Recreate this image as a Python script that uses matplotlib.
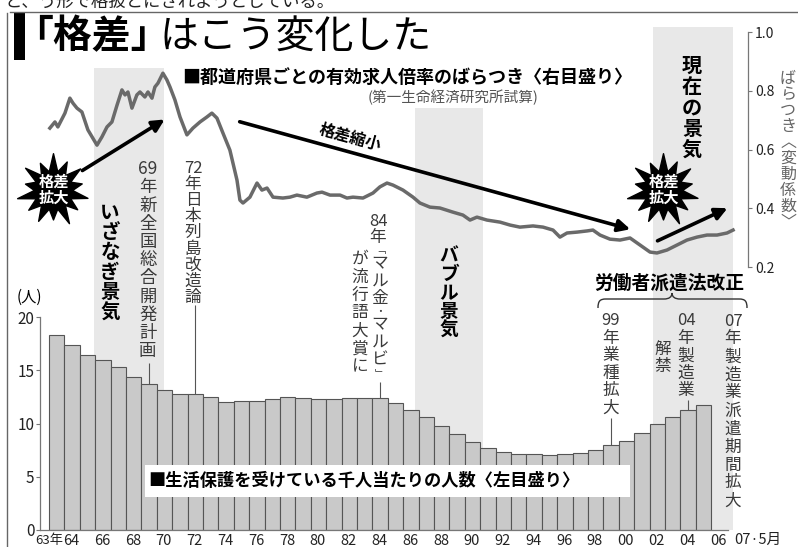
import matplotlib
matplotlib.use('Agg')
import numpy as np
import matplotlib.pyplot as plt
from matplotlib.path import Path
from matplotlib.patches import Rectangle, PathPatch, FancyArrowPatch
from matplotlib.lines import Line2D
from matplotlib.transforms import Affine2D

plt.rcParams['font.family'] = ['Noto Sans CJK JP', 'DejaVu Sans']

# 生活保護を受けている千人当たりの人数（1963〜2005年）
years = list(range(1963, 2006))
welfare = [18.3, 17.4, 16.4, 16.0, 15.3, 14.4, 13.7, 13.1, 12.8, 12.8,
           12.5, 12.0, 12.1, 12.1, 12.3, 12.5, 12.4, 12.3, 12.3, 12.4,
           12.4, 12.4, 11.9, 11.3, 10.6, 9.8, 9.0, 8.3, 7.7, 7.3,
           7.1, 7.1, 7.0, 7.1, 7.2, 7.5, 8.0, 8.4, 9.1, 10.0,
           10.6, 11.3, 11.7]

# 都道府県ごとの有効求人倍率のばらつき（変動係数）
cv_time = [1963.06, 1963.39, 1963.58, 1964.04, 1964.36, 1964.56, 1964.82, 1965.14,
           1965.53, 1966.12, 1966.44, 1966.77, 1967.09, 1967.42, 1967.74, 1967.94,
           1968.13, 1968.39, 1968.71, 1968.91, 1969.23, 1969.43, 1969.69, 1969.88,
           1970.08, 1970.40, 1970.66, 1970.86, 1971.18, 1971.51, 1971.96, 1972.35,
           1972.81, 1973.26, 1973.58, 1973.91, 1974.30, 1974.75, 1975.21, 1975.40,
           1975.60, 1976.05, 1976.51, 1976.83, 1977.16, 1977.55, 1978.19, 1978.65,
           1979.10, 1979.75, 1980.40, 1980.73, 1981.25, 1981.90, 1982.35, 1982.74,
           1983.39, 1984.04, 1984.49, 1984.95, 1985.34, 1985.99, 1986.64, 1987.09,
           1987.74, 1988.39, 1989.23, 1989.88, 1990.34, 1990.79, 1991.44, 1992.29,
           1992.94, 1993.58, 1994.43, 1995.08, 1995.73, 1996.18, 1996.64, 1997.29,
           1997.94, 1998.32, 1998.78, 1999.43, 2000.08, 2000.73, 2001.38, 2002.03,
           2002.48, 2003.13, 2003.78, 2004.43, 2005.08, 2005.73, 2006.38, 2007.03,
           2007.42]
cv_value = [0.673, 0.694, 0.677, 0.724, 0.775, 0.758, 0.741, 0.728,
            0.667, 0.615, 0.643, 0.677, 0.694, 0.751, 0.803, 0.786,
            0.796, 0.741, 0.786, 0.796, 0.779, 0.796, 0.775, 0.813,
            0.826, 0.860, 0.837, 0.813, 0.769, 0.711, 0.650, 0.673,
            0.694, 0.711, 0.724, 0.707, 0.656, 0.598, 0.496, 0.428,
            0.418, 0.438, 0.486, 0.462, 0.469, 0.438, 0.435, 0.438,
            0.445, 0.438, 0.452, 0.455, 0.445, 0.445, 0.435, 0.438,
            0.435, 0.452, 0.473, 0.486, 0.479, 0.462, 0.438, 0.418,
            0.404, 0.401, 0.387, 0.377, 0.360, 0.370, 0.360, 0.353,
            0.343, 0.336, 0.340, 0.336, 0.326, 0.302, 0.316, 0.319,
            0.323, 0.326, 0.309, 0.295, 0.292, 0.299, 0.275, 0.251,
            0.248, 0.258, 0.275, 0.292, 0.302, 0.309, 0.309, 0.316,
            0.326]

# 景気拡大期（いざなぎ・バブル・現在）
boom_start = [1965.9, 1986.8, 2002.2]
boom_end = [1970.5, 1991.2, 2007.42]

tick_years = [1963, 1964, 1966, 1968, 1970, 1972, 1974, 1976, 1978, 1980, 1982,
              1984, 1986, 1988, 1990, 1992, 1994, 1996, 1998, 2000, 2002, 2004, 2006]
tick_labels = ['63年', '64', '66', '68', '70', '72', '74', '76', '78', '80', '82',
               '84', '86', '88', '90', '92', '94', '96', '98', '00', '02', '04', '06']

left_ticks = [0, 5, 10, 15, 20]
right_ticks = [0.2, 0.4, 0.6, 0.8, 1.0]

W, H = 798, 547
fig = plt.figure(figsize=(W / 100, H / 100), dpi=100)
# 元画像のピクセル座標で置くための変換
pix = Affine2D().scale(1 / W, -1 / H).translate(0, 1) + fig.transFigure

DARK = '#3a3a3a'
HALF = '﹁﹂・'


def vtext(x, top, tokens, step, fontsize=12, **kw):
    """縦書きテキスト（1文字ずつ積む）"""
    y = top
    for t in tokens:
        s = step * (0.5 if t in HALF else 1.0)
        fs = fontsize * (0.6 if t in HALF else 1.0)
        fig.text(x, y + s / 2, t, transform=pix, ha='center', va='center',
                 fontsize=fs, **kw)
        y += s


# --- 軸 ---
ax = fig.add_axes([40 / W, 1 - 530 / H, 708 / W, 505 / H])
ax.set_xlim(1962.42, 2008.39)
ax.set_ylim(0, 47.42)
ax.patch.set_visible(False)
ax2 = ax.twinx()
ax2.set_ylim(-0.695, 1.024)

for s in ['top', 'right']:
    ax.spines[s].set_visible(False)
for s in ['top', 'left', 'bottom']:
    ax2.spines[s].set_visible(False)
ax.spines['left'].set_bounds(0, 20)
ax.spines['bottom'].set_bounds(1962.42, 2007.1)
ax2.spines['right'].set_bounds(0.2, 1.0)
for sp in [ax.spines['left'], ax.spines['bottom'], ax2.spines['right']]:
    sp.set_color('#777777')
    sp.set_linewidth(0.9)

ax.set_yticks(left_ticks)
ax.set_yticklabels([str(v) for v in left_ticks])
ax.tick_params(axis='y', length=3, pad=1, labelsize=11, color='#777777', labelcolor='#222222')
ax2.set_yticks(right_ticks)
ax2.set_yticklabels([f'{v:.1f}' for v in right_ticks])
ax2.tick_params(axis='y', length=3, pad=2, labelsize=10, color='#777777', labelcolor='#222222')

# 63年だけ文字が長いので位置と大きさを調整
xpos = [y + 0.45 if y != 1963 else y for y in tick_years]
ax.set_xticks(xpos)
ax.set_xticklabels(tick_labels)
ax.tick_params(axis='x', length=0, pad=3, labelsize=10.5, labelcolor='#222222')
ax.get_xticklabels()[0].set_fontsize(9.5)

# --- 景気の網掛け ---
band_tops = [68, 108, 27]
for x0, x1, top in zip(boom_start, boom_end, band_tops):
    ax.axvspan(x0, x1, ymin=0, ymax=(530 - top) / 505, color='#e8e8e8', lw=0, zorder=0)

# --- 棒と折れ線 ---
ax.bar(years, welfare, width=1.0, align='edge', color='#c9c9c9',
       edgecolor='#555555', linewidth=0.8, zorder=2)
ax2.plot(cv_time, cv_value, color='#6a6a6a', lw=2.5, zorder=3, solid_joinstyle='round')

# 引き出し線（69, 72, 84, 99, 04年）
lead_years = [1969, 1972, 1984, 1999, 2004]
lead_tops = [15.7, 21.1, 13.9, 10.5, 12.2]
for yr, top in zip(lead_years, lead_tops):
    v = welfare[years.index(yr)]
    ax.vlines(yr + 0.5, v, top, color='#555555', lw=0.8, zorder=3)

# --- 枠・タイトル ---
fig.add_artist(Line2D([10, W], [12, 12], transform=pix, color='#666666', lw=1.0))
fig.add_artist(Line2D([7, 7], [13, H], transform=pix, color='#666666', lw=1.0))
fig.add_artist(Rectangle((14, 13), 11, 47, transform=pix, color='black', lw=0))
fig.text(5, 7, 'と、う形で格扱とにされようとしている。', transform=pix,
         fontsize=12.5, va='baseline', color='#222222')
fig.text(14, 37, '「格差」', transform=pix, fontsize=28, fontweight='bold', va='center')
fig.text(160, 37, 'はこう変化した', transform=pix, fontsize=28, va='center')

fig.text(182, 77, '■都道府県ごとの有効求人倍率のばらつき〈右目盛り〉', transform=pix,
         fontsize=13, fontweight='bold', va='center')
fig.text(453, 97, '(第一生命経済研究所試算)', transform=pix, fontsize=10.5,
         color='#555555', ha='center', va='center')

# 下の凡例
fig.add_artist(Rectangle((145, 465), 485, 32, transform=pix, color='white', lw=0))
fig.text(148, 481, '■生活保護を受けている千人当たりの人数〈左目盛り〉', transform=pix,
         fontsize=12.4, fontweight='bold', va='center')

fig.text(29, 297, '(人)', transform=pix, fontsize=11, ha='center', va='center')
fig.text(758, 540, '07·5月', transform=pix, fontsize=10.5, ha='center', va='center', color='#222222')

# 右軸ラベル
vtext(788, 70, list('ばらつき︿変動係数﹀'), 16, fontsize=11.5, color='#666666')

# --- 縦書き注記 ---
vtext(110, 203, list('いざなぎ景気'), 20, fontsize=14, fontweight='bold')
vtext(148, 160, ['69'] + list('年新全国総合開発計画'), 18.2, fontsize=12.5, color=DARK)
vtext(193, 160, ['72'] + list('年日本列島改造論'), 16.2, fontsize=12, color=DARK)
vtext(378, 213, ['84', '年'], 16.5, fontsize=12, color=DARK)
vtext(380, 246, list('﹁マル金・マルビ﹂'), 17.5, fontsize=12, color=DARK)
vtext(360, 250, list('が流行語大賞に'), 18, fontsize=12, color=DARK)
vtext(449, 247, list('バブル景気'), 18.5, fontsize=13.5, fontweight='bold')
vtext(692, 55, list('現在の景気'), 21, fontsize=14.5, fontweight='bold')
vtext(611, 312, ['99'] + list('年業種拡大'), 17.5, fontsize=12, color=DARK)
vtext(686, 312, ['04'] + list('年製造業'), 17.5, fontsize=12, color=DARK)
vtext(663, 340, list('解禁'), 18, fontsize=12, color=DARK)
vtext(733, 312, ['07'] + list('年製造業派遣期間拡大'), 18, fontsize=12, color=DARK)

fig.text(669, 283, '労働者派遣法改正', transform=pix, fontsize=13.5,
         fontweight='bold', ha='center', va='center')
brace = Path([(598, 308), (598, 301), (600, 299), (606, 299), (664, 299),
              (669, 299), (672, 297), (672, 293), (672, 297), (675, 299), (680, 299),
              (739, 299), (745, 299), (747, 301), (747, 308)],
             [Path.MOVETO, Path.CURVE4, Path.CURVE4, Path.CURVE4, Path.LINETO,
              Path.CURVE4, Path.CURVE4, Path.CURVE4, Path.CURVE4, Path.CURVE4, Path.CURVE4,
              Path.LINETO, Path.CURVE4, Path.CURVE4, Path.CURVE4])
fig.add_artist(PathPatch(brace, transform=pix, fill=False, edgecolor='#333333', lw=1.0))

# --- 矢印 ---
for a, b in [((80, 172), (167, 118)), ((237, 121), (633, 230)), ((655, 242), (730, 207))]:
    fig.add_artist(FancyArrowPatch(a, b, transform=pix, arrowstyle='-|>',
                                   mutation_scale=18, lw=2.6, color='black'))
fig.text(350, 137, '格差縮小', transform=pix, fontsize=11.5, fontweight='bold',
         rotation=-15.4, rotation_mode='anchor', ha='center', va='center')

# --- 爆発マーク ---
outer = [1.0, 0.82, 0.97, 0.78, 1.0, 0.86, 0.93, 0.8, 1.0, 0.84, 0.96, 0.8, 0.94, 0.86]
n = len(outer)
verts = []
for i, r in enumerate(outer):
    a0 = 2 * np.pi * i / n + np.pi / 2
    a1 = a0 + np.pi / n
    verts.append((r * np.cos(a0), r * np.sin(a0)))
    verts.append((0.52 * np.cos(a1), 0.52 * np.sin(a1)))
verts.append(verts[0])
burst = Path(verts, closed=True)
for cx, cy in [(53, 190), (663, 190)]:
    fig.add_artist(Line2D([cx], [cy], transform=pix, marker=burst, markersize=53,
                          color='black', linestyle='none'))
    fig.text(cx + 1, cy, '格差\n拡大', transform=pix, fontsize=11, fontweight='bold',
             color='white', ha='center', va='center', linespacing=1.0)

fig.savefig('out.png', dpi=100)
